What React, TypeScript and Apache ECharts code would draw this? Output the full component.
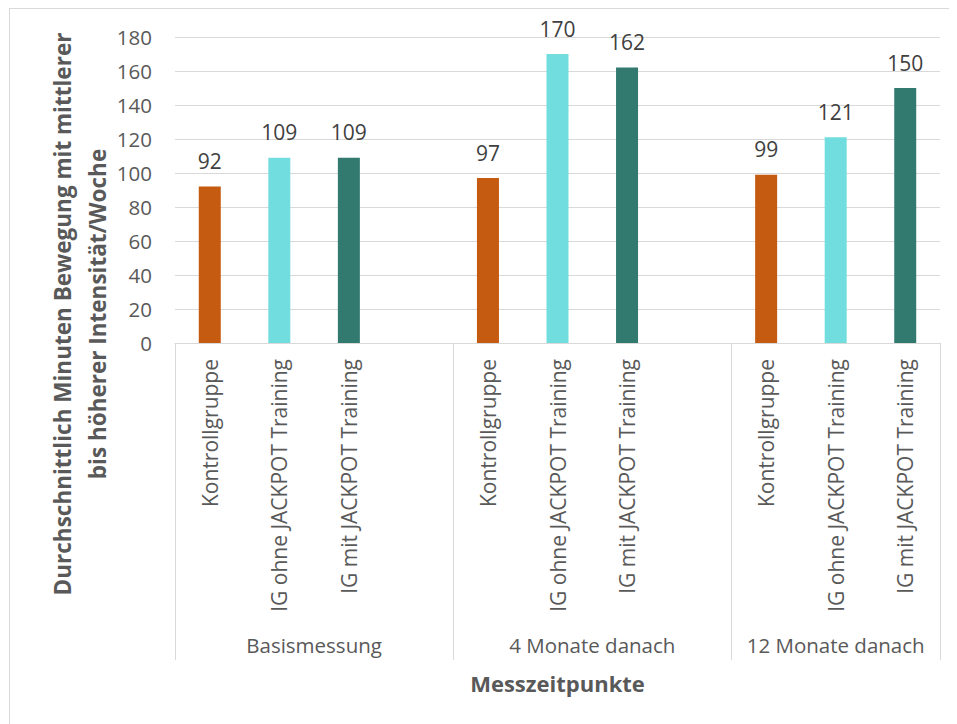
import React, { useEffect, useRef } from "react";
import * as echarts from "echarts";

const subgroups = ["Kontrollgruppe", "IG ohne JACKPOT Training", "IG mit JACKPOT Training"];
const groups = ["Basismessung", "4 Monate danach", "12 Monate danach"];
const basisValues = [92, 109, 109];
const month4Values = [97, 170, 162];
const month12Values = [99, 121, 150];
const groupValues = [basisValues, month4Values, month12Values];
const barColors = ["#C55A11", "#72DDDE", "#327A70"];
const yTitleLines = ["Durchschnittlich Minuten Bewegung mit mittlerer", "bis höherer Intensität/Woche"];
const xTitle = "Messzeitpunkte";

const FONT = "'Open Sans', sans-serif";

export default function App() {
  const ref = useRef<HTMLDivElement>(null);
  useEffect(() => {
    if (!ref.current) return;
    const chart = echarts.init(ref.current, undefined, { renderer: "svg" });

    const categories: string[] = [];
    const data: any[] = [];
    const groupStarts: number[] = [];
    const groupSizes: number[] = [];
    groups.forEach((g, gi) => {
      groupStarts.push(categories.length);
      subgroups.forEach((s, si) => {
        categories.push(s);
        data.push({ value: groupValues[gi][si], itemStyle: { color: barColors[si] } });
      });
      if (gi < groups.length - 1) {
        categories.push("");
        data.push("-");
        groupSizes.push(subgroups.length + 1);
      } else {
        groupSizes.push(subgroups.length);
      }
    });
    const n = categories.length;
    const halfLabels: Record<number, string> = {};
    groups.forEach((g, gi) => {
      halfLabels[2 * groupStarts[gi] + groupSizes[gi]] = g;
    });

    chart.setOption({
      animation: false,
      grid: { left: 167, top: 29, right: 17, bottom: 381, containLabel: false, outerBoundsMode: "none" },
      graphic: [
        { type: "line", shape: { x1: 1.5, y1: 0, x2: 1.5, y2: 716 }, style: { stroke: "#D9D9D9", lineWidth: 1 } },
        { type: "line", shape: { x1: 1, y1: 0.5, x2: 949, y2: 0.5 }, style: { stroke: "#D9D9D9", lineWidth: 1 } },
        {
          type: "text",
          x: 72,
          y: 306,
          rotation: Math.PI / 2,
          style: {
            text: yTitleLines.join("\n"),
            font: `bold 22.5px ${FONT}`,
            fill: "#595959",
            align: "center",
            verticalAlign: "middle",
            lineHeight: 35,
          },
        },
      ],
      xAxis: [
        {
          type: "category",
          data: categories,
          axisLine: { show: true, lineStyle: { color: "#D9D9D9", width: 1 } },
          axisTick: {
            show: true,
            interval: (index: number) => groupStarts.indexOf(index) >= 0,
            length: 317,
            lineStyle: { color: "#D9D9D9", width: 1 },
          },
          axisLabel: {
            interval: 0,
            rotate: 90,
            margin: 16,
            color: "#595959",
            fontSize: 21,
            fontFamily: FONT,
          },
        },
        {
          type: "value",
          position: "bottom",
          offset: 282,
          min: 0,
          max: 2 * n,
          interval: 1,
          axisLine: { show: false },
          axisTick: { show: false },
          splitLine: { show: false },
          axisLabel: {
            margin: 9,
            color: "#595959",
            fontSize: 20.5,
            fontFamily: FONT,
            formatter: (v: number) => halfLabels[v] || "",
          },
          name: xTitle,
          nameLocation: "middle",
          nameGap: 47,
          nameTextStyle: { color: "#595959", fontSize: 22, fontWeight: "bold", fontFamily: FONT },
        },
      ],
      yAxis: {
        type: "value",
        min: 0,
        max: 180,
        interval: 20,
        axisLine: { show: false },
        axisTick: { show: false },
        splitLine: { lineStyle: { color: "#D9D9D9", width: 1 } },
        axisLabel: { color: "#595959", fontSize: 20.5, fontFamily: FONT, margin: 23 },
      },
      series: [
        {
          type: "bar",
          xAxisIndex: 0,
          barWidth: 22,
          data,
          label: {
            show: true,
            position: "top",
            distance: 15,
            color: "#404040",
            fontSize: 21,
            fontFamily: FONT,
          },
        },
      ],
    });
    return () => chart.dispose();
  }, []);
  return <div ref={ref} style={{ width: 949, height: 716 }} />;
}
